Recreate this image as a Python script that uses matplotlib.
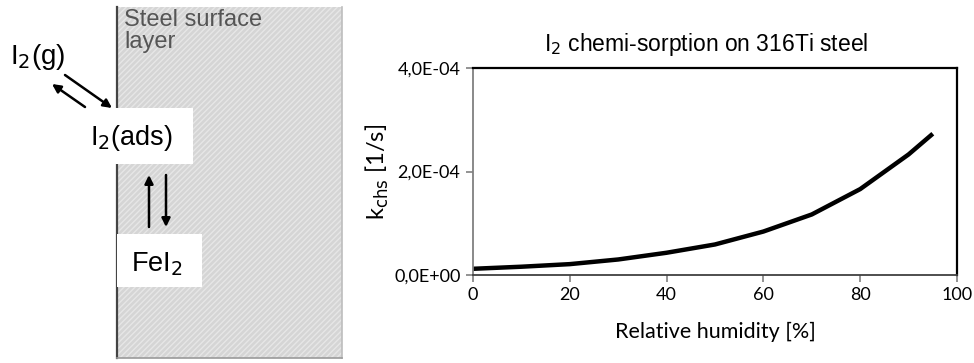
"""
plot.py

Iodine chemi-sorption on 316Ti steel: schematic of the surface
reactions next to the rate constant vs. relative humidity.
"""

import matplotlib
matplotlib.use("Agg")
import matplotlib.pyplot as plt
from matplotlib.patches import Rectangle, FancyArrowPatch
from matplotlib.ticker import FuncFormatter

# Data
humidity = [0, 10, 20, 30, 40, 50, 60, 70, 80, 90, 95]
k_chs = [1.2e-5, 1.6e-5, 2.1e-5, 3.0e-5, 4.3e-5, 5.9e-5, 8.4e-5,
         1.17e-4, 1.66e-4, 2.33e-4, 2.73e-4]
x_ticks = [0, 20, 40, 60, 80, 100]
y_ticks = [0.0, 2.0e-4, 4.0e-4]

ARIAL = "Liberation Sans"
CALIBRI = "Lato"

fig = plt.figure(figsize=(9.74, 3.63), dpi=100)

# Schematic, drawn in pixel units over the whole figure
sk = fig.add_axes([0, 0, 1, 1])
sk.set_xlim(0, 974)
sk.set_ylim(363, 0)
sk.axis("off")

sk.add_patch(Rectangle((117, 7), 225, 351, facecolor="#d5d5d5",
                       edgecolor="#e6e6e6", hatch="//////", linewidth=0, zorder=1))
sk.plot([117, 117], [7, 358], color="#444444", lw=1.6, zorder=2)
sk.plot([342, 342], [7, 358], color="#bdbdbd", lw=1.2, zorder=2)
sk.plot([117, 342], [358, 358], color="#9a9a9a", lw=1.2, zorder=2)

# white boxes for the adsorbed species
sk.add_patch(Rectangle((85, 108), 108, 56, facecolor="white", lw=0, zorder=3))
sk.add_patch(Rectangle((117, 234), 85, 53, facecolor="white", lw=0, zorder=3))

sk.text(124, 9, "Steel surface\nlayer", fontsize=17, color="#555555",
        family=ARIAL, va="top", ha="left", linespacing=1.0, zorder=4)
sk.text(10, 64, r"I$_2$(g)", fontsize=20, family=ARIAL, va="baseline", zorder=4)
sk.text(90, 145, r"I$_2$(ads)", fontsize=19.5, family=ARIAL, va="baseline", zorder=4)
sk.text(131, 271, r"FeI$_2$", fontsize=19.5, family=ARIAL, va="baseline", zorder=4)

arrows = [((65, 75), (112, 108)), ((85, 107), (52, 84)),
          ((149, 227), (149, 175)), ((166, 175), (166, 227))]
for start, end in arrows:
    sk.add_patch(FancyArrowPatch(start, end, arrowstyle="-|>,head_length=5,head_width=2.5",
                                 color="black", lw=1.8, shrinkA=0, shrinkB=0, zorder=4))

# Rate constant chart
ax = fig.add_axes([473 / 974, 88 / 363, 484 / 974, 207 / 363])
ax.plot(humidity, k_chs, color="black", lw=3.2, solid_capstyle="butt")
ax.set_xlim(0, 100)
ax.set_ylim(0, 4.0e-4)
ax.set_xticks(x_ticks)
ax.set_yticks(y_ticks)
ax.yaxis.set_major_formatter(FuncFormatter(lambda v, pos: f"{v:.1E}".replace(".", ",")))

for side in ["top", "right"]:
    ax.spines[side].set_color("black")
    ax.spines[side].set_linewidth(1.6)
ax.spines["left"].set_color("#808080")
ax.spines["left"].set_linewidth(1.3)
ax.spines["bottom"].set_color("#404040")
ax.spines["bottom"].set_linewidth(1.3)
ax.tick_params(direction="out", length=5, width=1.2, color="#808080",
               labelsize=13, pad=4)
for label in ax.get_xticklabels() + ax.get_yticklabels():
    label.set_family(CALIBRI)

ax.set_title(r"I$_2$ chemi-sorption on 316Ti steel", fontsize=16.5,
             family=ARIAL, pad=12, x=0.481)
ax.set_xlabel("Relative humidity [%]", fontsize=15.5, family=CALIBRI, labelpad=13)
ax.set_ylabel(r"k$_{\mathrm{chs}}$ [1/s]", fontsize=17, family=CALIBRI, labelpad=2)

fig.savefig("out.png", dpi=100)
